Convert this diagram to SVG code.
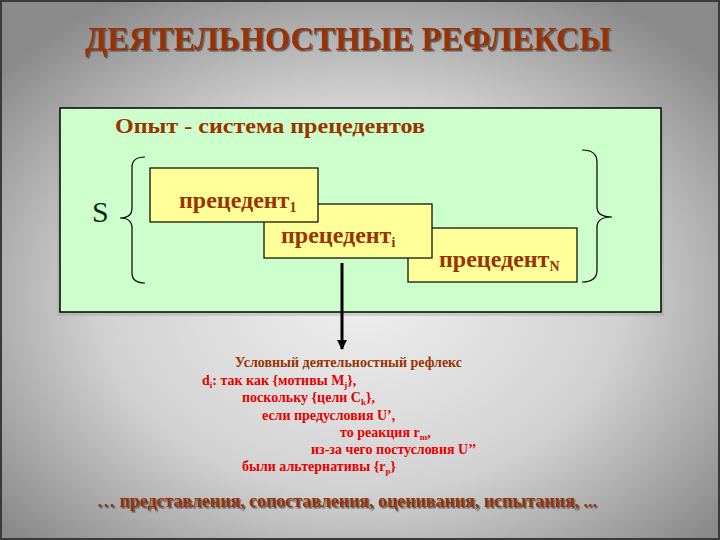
<svg xmlns="http://www.w3.org/2000/svg" width="720" height="540" viewBox="0 0 720 540">
<defs>
<radialGradient id="bg" cx="50%" cy="55%" r="65%">
<stop offset="0" stop-color="#efefef"/>
<stop offset="0.55" stop-color="#d2d2d2"/>
<stop offset="1" stop-color="#8a8a8a"/>
</radialGradient>
<filter id="ts" x="-5%" y="-20%" width="110%" height="150%">
<feDropShadow dx="1.5" dy="1.5" stdDeviation="0.4" flood-color="#505050" flood-opacity="0.9"/>
</filter>
<marker id="arr" viewBox="0 0 10 10" refX="9" refY="5" markerWidth="3.4" markerHeight="3.4" orient="auto" markerUnits="strokeWidth">
<path d="M0,0 L10,5 L0,10 z" fill="#000"/>
</marker>
<style>
.ser{font-family:"Liberation Serif","Times New Roman",serif;font-weight:bold}
.brown{fill:#993300}
.red{fill:#e60000}
.box{fill:#ffff99;stroke:#000;stroke-width:1.2}
.brace{fill:none;stroke:#000;stroke-width:1.2}
.bt{font-size:24px}
.sub{font-size:14px}
</style>
</defs>
<rect x="0" y="0" width="720" height="540" fill="url(#bg)"/>
<rect x="1" y="1" width="718" height="538" fill="none" stroke="#3a3a3a" stroke-width="2"/>

<g id="title">
<text class="ser brown" x="85" y="50" font-size="34" textLength="526" lengthAdjust="spacingAndGlyphs" filter="url(#ts)">ДЕЯТЕЛЬНОСТНЫЕ РЕФЛЕКСЫ</text>
</g>

<g id="experience">
<rect x="57" y="111" width="607" height="205" fill="#9a9a9a" opacity="0.35"/>
<rect x="60" y="108" width="601" height="204" fill="#ccffcc" stroke="#000" stroke-width="1.5"/>
<text class="ser brown" x="115" y="133" font-size="20" textLength="310" lengthAdjust="spacingAndGlyphs">Опыт - система прецедентов</text>
</g>

<g id="S">
<text x="92" y="222" font-family="Liberation Serif, serif" font-size="30" fill="#0d2a0d">S</text>
<path class="brace" d="M145,157 Q132,157 132,167 L132,208 Q132,218 120,218 Q132,218 132,228 L132,273 Q132,283 145,283"/>
</g>

<g id="precN">
<rect class="box" x="408" y="228" width="169" height="54"/>
<text class="ser brown bt" x="439" y="267">прецедент<tspan class="sub" dy="4">N</tspan></text>
</g>

<g id="preci">
<rect class="box" x="264" y="204" width="168" height="54"/>
<text class="ser brown bt" x="281" y="243">прецедент<tspan class="sub" dy="4">i</tspan></text>
</g>

<g id="prec1">
<rect class="box" x="150" y="168" width="168" height="54"/>
<text class="ser brown bt" x="179" y="208">прецедент<tspan class="sub" dy="4">1</tspan></text>
</g>

<g id="rbrace">
<path class="brace" d="M582,150 Q597,150 597,162 L597,207 Q597,217 612,217 Q597,217 597,227 L597,270 Q597,282 582,282"/>
</g>

<g id="connectors">
<line x1="342" y1="263" x2="342" y2="349" stroke="#000" stroke-width="3" marker-end="url(#arr)"/>
</g>

<g id="reflex" class="ser" font-size="14">
<text class="brown" x="235" y="367">Условный деятельностный рефлекс</text>
<text class="red" x="202" y="385">d<tspan font-size="9" dy="3">i</tspan><tspan dy="-3">: так как {мотивы M</tspan><tspan font-size="9" dy="3">j</tspan><tspan dy="-3">},</tspan></text>
<text class="red" x="242" y="402">поскольку {цели C<tspan font-size="9" dy="3">k</tspan><tspan dy="-3">},</tspan></text>
<text class="red" x="262" y="420">если  предусловия U’,</text>
<text class="red" x="340" y="437">то реакция r<tspan font-size="9" dy="3">m</tspan><tspan dy="-3">,</tspan></text>
<text class="red" x="311" y="454">из-за чего постусловия U’’</text>
<text class="red" x="242" y="471">были альтернативы {r<tspan font-size="9" dy="3">p</tspan><tspan dy="-3">}</tspan></text>
</g>

<g id="bottom">
<text class="ser brown" x="97" y="507" font-size="18" textLength="500" lengthAdjust="spacingAndGlyphs" filter="url(#ts)">… представления, сопоставления, оценивания, испытания, ...</text>
</g>
</svg>
